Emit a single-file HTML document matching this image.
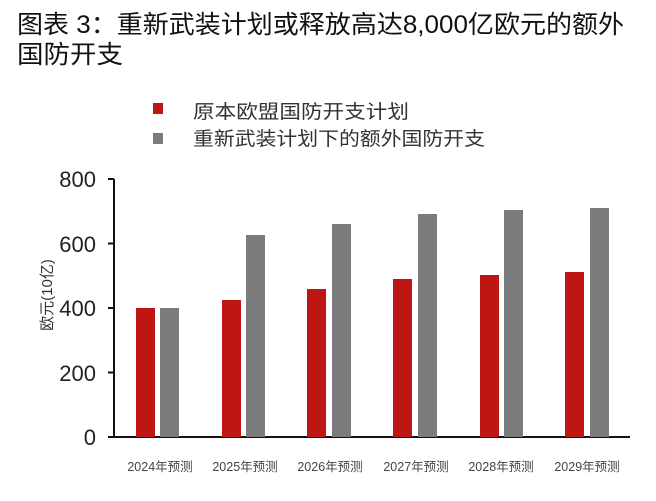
<!DOCTYPE html>
<html><head><meta charset="utf-8"><style>
body{margin:0;background:#fff;width:656px;height:496px;overflow:hidden;font-family:"Liberation Sans","Noto Sans CJK SC",sans-serif}
</style></head><body>
<svg width="656" height="496" xmlns="http://www.w3.org/2000/svg" font-family="Liberation Sans, Noto Sans CJK SC, sans-serif">
<text x="17" y="33" font-size="25" fill="#111" textLength="607" lengthAdjust="spacingAndGlyphs">图表 3：重新武装计划或释放高达8,000亿欧元的额外</text>
<text x="17" y="63" font-size="25" fill="#111" textLength="106" lengthAdjust="spacingAndGlyphs">国防开支</text>
<rect x="153" y="103" width="10" height="11" fill="#be1515"/>
<rect x="153" y="133" width="10" height="11" fill="#7b7b7b"/>
<text x="193" y="118" font-size="19" fill="#333" textLength="216" lengthAdjust="spacingAndGlyphs">原本欧盟国防开支计划</text>
<text x="193" y="145" font-size="19" fill="#333" textLength="292" lengthAdjust="spacingAndGlyphs">重新武装计划下的额外国防开支</text>
<g font-size="22" fill="#222" text-anchor="end">
<text x="96" y="187">800</text><text x="96" y="252">600</text><text x="96" y="316">400</text><text x="96" y="381">200</text><text x="96" y="445">0</text>
</g>
<g stroke="#111" stroke-width="2">
<line x1="114" y1="179" x2="114" y2="437"/>
<line x1="108" y1="437" x2="630" y2="437"/>
<line x1="108" y1="179" x2="114" y2="179"/><line x1="108" y1="243.5" x2="114" y2="243.5"/><line x1="108" y1="308" x2="114" y2="308"/><line x1="108" y1="372.5" x2="114" y2="372.5"/>
</g>
<text transform="translate(52,295) rotate(-90)" font-size="15" fill="#333" text-anchor="middle">欧元(10亿)</text>
<g fill="#be1515">
<rect x="136" y="308" width="19" height="129"/>
<rect x="222" y="300" width="19" height="137"/>
<rect x="307" y="289" width="19" height="148"/>
<rect x="393" y="279" width="19" height="158"/>
<rect x="480" y="275" width="19" height="162"/>
<rect x="565" y="272" width="19" height="165"/>
</g>
<g fill="#7b7b7b">
<rect x="160" y="308" width="19" height="129"/>
<rect x="246" y="235" width="19" height="202"/>
<rect x="332" y="224" width="19" height="213"/>
<rect x="418" y="214" width="19" height="223"/>
<rect x="504" y="210" width="19" height="227"/>
<rect x="590" y="208" width="19" height="229"/>
</g>
<g font-size="12.5" fill="#444" text-anchor="middle">
<text x="160" y="471">2024年预测</text><text x="245" y="471">2025年预测</text><text x="330" y="471">2026年预测</text>
<text x="416" y="471">2027年预测</text><text x="501" y="471">2028年预测</text><text x="587" y="471">2029年预测</text>
</g>
</svg>
</body></html>
